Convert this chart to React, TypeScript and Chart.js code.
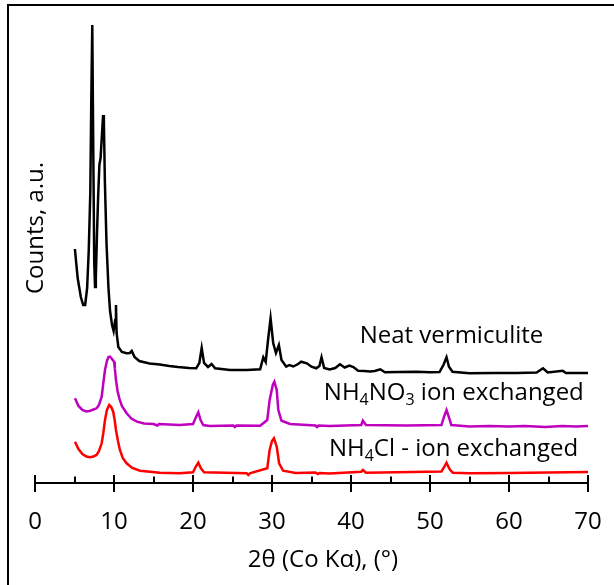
import React, { useEffect, useRef } from "react";
import { Chart, registerables } from "chart.js";

Chart.register(...registerables);

// ---- data (2θ in degrees, counts in arbitrary units) ----
const neatX = [5.05, 5.4, 5.8, 6.1, 6.35, 6.6, 6.8, 7.0, 7.12, 7.25, 7.38, 7.5, 7.6, 7.7, 7.85, 8.0, 8.15, 8.3, 8.45, 8.62, 8.72, 8.85, 9.05, 9.3, 9.5, 9.75, 9.95, 10.15, 10.25, 10.33, 10.55, 11.0, 11.6, 12.0, 12.25, 12.6, 13.2, 13.7, 14.5, 15.8, 17.0, 18.1, 19.5, 20.4, 20.8, 21.1, 21.4, 21.9, 22.35, 22.8, 24.7, 26.8, 28.5, 28.9, 29.2, 29.5, 29.82, 30.15, 30.5, 30.87, 31.2, 31.8, 32.2, 32.7, 33.3, 33.7, 34.4, 35.0, 35.6, 36.0, 36.27, 36.6, 37.3, 38.0, 38.6, 39.2, 39.8, 40.3, 40.9, 41.7, 42.4, 43.0, 43.7, 44.3, 46.0, 48.3, 50.0, 51.2, 51.7, 52.09, 52.4, 52.85, 55.0, 58.0, 61.0, 63.5, 64.3, 64.9, 66.8, 67.2, 70.0];
const neatY = [234, 205, 186, 178, 178, 195, 232, 290, 380, 458, 330, 220, 196, 205, 250, 288, 318, 325, 345, 368, 360, 300, 240, 195, 172, 158, 152, 163, 178, 150, 136, 131, 129.7, 130, 132, 126, 122, 121, 119.5, 118.5, 117, 116, 115, 114.7, 120, 135, 120, 116, 119, 114.7, 113, 113, 113.7, 125.7, 121, 143, 164.7, 140, 130, 138, 123, 116.3, 118, 116.5, 119, 121.3, 119.7, 116.3, 114.7, 117, 125.7, 115, 113.5, 115, 118.7, 115.5, 117.5, 116, 112.3, 112, 111.5, 112, 113.7, 110.8, 111, 111.3, 110.8, 111, 118, 125.7, 116.3, 111.3, 109.7, 110, 110, 110.5, 114.7, 110.5, 112.3, 110, 110];

const nitrateX = [5.06, 5.5, 6.0, 6.5, 6.9, 7.4, 7.8, 8.1, 8.44, 8.65, 8.86, 9.1, 9.3, 9.49, 9.75, 10.0, 10.1, 10.25, 10.45, 10.67, 11.0, 11.6, 12.2, 12.9, 13.8, 15.0, 15.5, 15.7, 18.3, 20.0, 20.4, 20.67, 20.96, 21.3, 22.1, 25.1, 25.3, 25.5, 28.5, 29.4, 29.7, 30.1, 30.3, 30.6, 30.8, 31.2, 32.3, 35.5, 35.7, 35.9, 37.3, 41.3, 41.5, 41.9, 47.0, 51.45, 51.75, 52.09, 52.4, 52.7, 55.0, 57.5, 60.0, 62.0, 64.6, 66.7, 68.5, 70.0];
const nitrateY = [84.7, 77, 73, 71.5, 72, 73.5, 74.7, 78, 86.3, 100, 113, 122, 126, 126.3, 124, 121.3, 115, 103, 92, 84.7, 77, 69.7, 64.5, 61.3, 59.5, 59, 57.5, 59, 58, 59, 66.3, 70.7, 63, 58, 57, 57.5, 56, 57.5, 57.3, 63, 83, 98, 101.3, 93, 73, 62.3, 59, 57.5, 56, 57.5, 57, 58, 62.3, 58, 57.5, 58, 65.7, 73, 65.7, 58, 56.5, 57, 56.5, 57, 56, 57, 56.5, 57];

const chlorideX = [5.06, 5.5, 6.0, 6.5, 6.96, 7.4, 7.8, 8.1, 8.44, 8.65, 8.86, 9.1, 9.4, 9.65, 9.9, 10.1, 10.25, 10.5, 10.75, 11.1, 11.6, 12.3, 13.3, 15.8, 18.3, 20.0, 20.4, 20.67, 21.0, 21.4, 26.8, 27.0, 27.2, 29.4, 29.7, 30.0, 30.25, 30.6, 30.9, 31.4, 33.0, 35.5, 35.8, 36.0, 37.3, 41.3, 41.5, 41.9, 51.45, 51.8, 52.09, 52.4, 52.6, 52.9, 55.0, 60.0, 65.0, 70.0];
const chlorideY = [41.3, 34, 29, 26.5, 25.7, 26.5, 28, 32, 39.7, 50, 63, 73, 78, 76, 71.3, 62, 53, 42, 33, 25, 19.7, 15, 12.3, 10.3, 9.7, 10.7, 17, 20.3, 14.7, 10.7, 9.7, 8, 9.7, 14.7, 33, 42, 44.7, 36.3, 19.7, 12.3, 10, 10.5, 9, 10, 9.5, 11.3, 13, 10.3, 11.5, 16, 20.3, 15, 12.5, 10.3, 9.7, 10, 10.5, 11];

const seriesColors = ["#000000", "#BF00BF", "#FF0000"];

// curve labels: x (°) of left edge, y (a.u.) of baseline, rich text parts ("_" = subscript)
const neatLabel = ["Neat vermiculite"];
const nitrateLabel = ["NH", "_4", "NO", "_3", " ion exchanged"];
const chlorideLabel = ["NH", "_4", "Cl - ion exchanged"];
const labelX = [41.1, 36.56, 37.2];
const labelY = [140, 83, 27];

const xTitle = "2θ (Co Kα), (°)";
const yTitle = "Counts, a.u.";
const xMin = 0;
const xMax = 70;
const xStep = 10;
const yMax = 463;

const FONT = "'Open Sans', 'Noto Sans', sans-serif";

function pts(xs: number[], ys: number[]) {
  return xs.map((x, i) => ({ x, y: ys[i] }));
}

function drawRich(ctx: CanvasRenderingContext2D, parts: string[], x: number, y: number) {
  let cx = x;
  for (const p of parts) {
    const sub = p.startsWith("_");
    const t = sub ? p.slice(1) : p;
    ctx.font = sub ? `16px ${FONT}` : `24px ${FONT}`;
    ctx.fillText(t, cx, sub ? y + 5 : y);
    cx += ctx.measureText(t).width;
  }
}

const decorPlugin = {
  id: "decor",
  beforeDraw(chart: any) {
    const ctx = chart.ctx as CanvasRenderingContext2D;
    ctx.save();
    ctx.fillStyle = "#ffffff";
    ctx.fillRect(0, 0, chart.width, chart.height);
    // frame (left + top)
    ctx.fillStyle = "#000000";
    ctx.fillRect(7, 4, chart.width - 7, 2);
    ctx.fillRect(7, 4, 2, chart.height - 4);
    ctx.restore();
  },
  afterDraw(chart: any) {
    const ctx = chart.ctx as CanvasRenderingContext2D;
    const xs = chart.scales.x;
    const ys = chart.scales.y;
    const axisY = chart.chartArea.bottom;
    ctx.save();
    ctx.strokeStyle = "#000000";
    ctx.lineWidth = 2;
    ctx.beginPath();
    ctx.moveTo(xs.getPixelForValue(xMin), axisY);
    ctx.lineTo(xs.getPixelForValue(xMax), axisY);
    ctx.stroke();
    for (let v = xMin; v <= xMax; v += xStep / 2) {
      const px = Math.round(xs.getPixelForValue(v));
      const major = v % xStep === 0;
      ctx.beginPath();
      ctx.moveTo(px, major ? axisY - 8 : axisY - 6.5);
      ctx.lineTo(px, major ? axisY + 9 : axisY);
      ctx.stroke();
    }
    // curve labels
    ctx.fillStyle = "#000000";
    ctx.textBaseline = "alphabetic";
    ctx.textAlign = "left";
    const labels = [neatLabel, nitrateLabel, chlorideLabel];
    labels.forEach((parts, i) => {
      drawRich(ctx, parts, xs.getPixelForValue(labelX[i]), ys.getPixelForValue(labelY[i]));
    });
    // axis titles
    ctx.font = `24px ${FONT}`;
    ctx.textAlign = "center";
    ctx.fillText(xTitle, 323, 567);
    ctx.translate(43, 228);
    ctx.rotate(-Math.PI / 2);
    ctx.fillText(yTitle, 0, 0);
    ctx.restore();
  },
};

export default function App() {
  const ref = useRef<HTMLCanvasElement | null>(null);
  useEffect(() => {
    if (!ref.current) return;
    Chart.defaults.font.family = FONT;
    const chart = new Chart(ref.current, {
      type: "line",
      data: {
        datasets: [
          { label: "Neat vermiculite", data: pts(neatX, neatY) },
          { label: "NH4NO3 ion exchanged", data: pts(nitrateX, nitrateY) },
          { label: "NH4Cl - ion exchanged", data: pts(chlorideX, chlorideY) },
        ].map((d, i) => ({
          ...d,
          borderColor: seriesColors[i],
          backgroundColor: seriesColors[i],
          borderWidth: 2.5,
          pointRadius: 0,
          tension: 0,
          fill: false,
        })),
      },
      options: {
        responsive: false,
        animation: false,
        events: [],
        layout: { padding: { left: 35, right: 26, top: 20, bottom: 0 } },
        plugins: { legend: { display: false }, tooltip: { enabled: false } },
        scales: {
          x: {
            type: "linear",
            min: xMin,
            max: xMax,
            grid: { display: false, drawTicks: false },
            border: { display: false },
            ticks: { stepSize: xStep, padding: 0, color: "#000000", font: { size: 24, lineHeight: 3.28 } },
            afterFit: (s: any) => {
              s.height = 102;
            },
          },
          y: { display: false, min: 0, max: yMax },
        },
      },
      plugins: [decorPlugin],
    });
    return () => chart.destroy();
  }, []);
  return (
    <div style={{ position: "fixed", left: 0, top: 0, width: 614, height: 585, background: "#fff" }}>
      <canvas ref={ref} width={614} height={585} style={{ display: "block" }} />
    </div>
  );
}
